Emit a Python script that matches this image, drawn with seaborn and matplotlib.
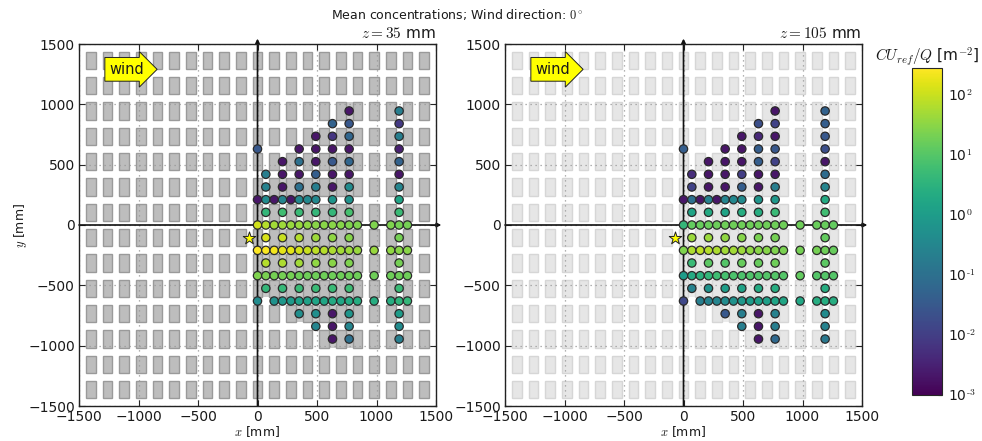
import numpy as np
import pandas as pd
import matplotlib
matplotlib.use('Agg')
import matplotlib.pyplot as plt
from matplotlib.colors import LogNorm
from matplotlib.patches import Rectangle
from matplotlib.cm import ScalarMappable
import seaborn as sns

# ── building layout (mm)
bld_x = [-1400, -1260, -1120, -980, -840, -700, -560, -420, -280, -140, 0,
         140, 280, 420, 560, 700, 840, 980, 1120, 1260, 1400]
bld_y = [1365, 1155, 945, 735, 525, 315, 105, -105, -315, -525, -735, -945, -1155, -1365]
bld_w, bld_h = 80, 145

# rows where the gaps between buildings are closed
fill_y = [945, 735, 525, 315, 105, -105, -315, -525, -735, -945]
fill_from = [700, 700, 560, 140, 560, 140, 0, 0, 280, 560]
fill_to = [840, 840, 840, 840, 840, 840, 840, 840, 840, 840]

# ── sampling positions
x_full = [0, 70, 140, 210, 280, 350, 420, 490, 560, 630, 700, 770, 840, 980, 1120, 1190, 1260]
x_gap = [0, 140, 210, 280, 350, 420, 490, 560, 630, 700, 770, 840, 980, 1120, 1190, 1260]
x_odd = [70, 210, 350, 490, 630, 770, 1190]

row_y = [945, 840, 735, 630, 525, 420, 315, 210, 105, 0,
         -105, -210, -315, -420, -525, -630, -735, -840, -945]
row_x = [
    [770, 1190],
    [630, 770, 1190],
    [490, 630, 770, 1190],
    [0, 350, 490, 630, 770, 1190],
    [210, 350, 490, 630, 770, 1190],
    x_odd,
    x_odd,
    [0, 70, 140, 210, 280, 350, 420, 490, 630, 770, 1190],
    x_odd,
    x_full,
    x_odd,
    x_full,
    x_odd,
    x_full,
    x_odd,
    x_gap,
    [350, 490, 630, 770, 1190],
    [490, 630, 770, 1190],
    [630, 770, 1190],
]

# ── CU_ref/Q
conc_35 = [
    [.002, .2],
    [.05, .03, .008],
    [.002, .007, .06, .2],
    [.03, .002, .002, .002, .002, .003],
    [.002, .1, .002, .03, .06, .05],
    [.2, .002, .002, .04, .002, .002, .002],
    [.25, .002, .1, .2, .002, .4, .3],
    [.002, .4, .002, .3, .002, .35, .35, .35, .7, .6, 1.5],
    [4, 6, 5, 4, 4, 7, 5],
    [120, 70, 50, 45, 40, 40, 35, 30, 30, 30, 28, 25, 25, 25, 25, 20, 20],
    [130, 100, 70, 45, 35, 28, 20],
    [280, 250, 220, 170, 160, 120, 100, 80, 70, 60, 50, 45, 40, 40, 35, 30, 30],
    [70, 60, 50, 35, 30, 25, 20],
    [25, 22, 20, 20, 20, 18, 18, 18, 18, 18, 18, 18, 18, 18, 18, 18, 18],
    [4, 4.5, 5, 5, 5, 5.5, 5],
    [.4, .6, .8, .9, 1.2, 1.3, 1.5, 1.7, 2, 1.7, 2, 2.5, 2.5, 2.5, 3.5, 4],
    [.5, .5, .002, .7, 1],
    [.3, .002, .3, .4],
    [.002, .1, .2],
]
conc_105 = [
    [.002, .05],
    [.02, .012, .04],
    [.002, .004, .002, .03],
    [.04, .002, .002, .04, .03, .02],
    [.002, .002, .002, .04, .012, .002],
    [.005, .002, .002, .01, .002, .002, .08],
    [.012, .002, .002, .04, .002, .2, .3],
    [.002, .1, .002, .25, .002, .3, .35, .4, .7, .8, 2],
    [1.5, 2, 1.5, 2.5, 2.5, 5, 6],
    [4, 14, 15, 16, 17, 18, 18, 18, 18, 18, 18, 18, 18, 18, 16, 15, 14],
    [43, 43, 35, 28, 22, 20, 14],
    [25, 60, 80, 70, 60, 50, 50, 45, 35, 30, 28, 25, 22, 20, 20, 18, 15],
    [5, 12, 10, 15, 15, 18, 12],
    [1, 2, 3, 4, 6, 7, 8, 8, 9, 9, 10, 10, 10, 14, 10, 10, 10],
    [.25, .6, 1.1, 1.4, 2, 2.5, 2.5],
    [.015, .2, .25, .3, .4, .6, .8, 1, 1.2, 1.2, 1.5, 1.6, 1.8, 2.5, 2.5, 2.5],
    [.03, .2, .002, .25, .4],
    [.2, .002, .2, .25],
    [.002, .07, .15],
]

source_x, source_y = [-70], [-105]
cbar_ticks = [1e-3, 1e-2, 1e-1, 1e0, 1e1, 1e2]
cbar_labels = ['10$^{\\text{-3}}$', '10$^{\\text{-2}}$', '10$^{\\text{-1}}$',
               '10$^{0}$', '10$^{1}$', '10$^{2}$']
lim_ticks = [-1500, -1000, -500, 0, 500, 1000, 1500]

sns.set_style('white')
plt.rcParams['font.family'] = 'DejaVu Sans'
plt.rcParams['mathtext.fontset'] = 'cm'
plt.rcParams['axes.unicode_minus'] = True

norm = LogNorm(vmin=1e-3, vmax=280)
W, H = 982, 441
fig = plt.figure(figsize=(W / 100, H / 100), dpi=100)
TXT = '#1a1a1a'


def panel(left_px, conc, z_label, bld_fc, bld_ec, fill_fc):
    ax = fig.add_axes([left_px / W, (H - 406) / H, 357 / W, 362 / H])
    ax.set_xlim(-1500, 1500)
    ax.set_ylim(-1500, 1500)
    ax.set_xticks(lim_ticks)
    ax.set_yticks(lim_ticks)
    ax.tick_params(direction='in', length=4, width=0.8, top=True, right=True,
                   bottom=True, left=True, labelsize=10, labelcolor=TXT, pad=3)
    ax.grid(True, color='#999999', linestyle=(0, (1, 3)), linewidth=0.9, zorder=2)
    ax.set_axisbelow(False)
    for s in ax.spines.values():
        s.set_linewidth(1)
        s.set_color('#222222')
        s.set_zorder(10)

    # buildings
    for fy, f0, f1 in zip(fill_y, fill_from, fill_to):
        ax.add_patch(Rectangle((f0, fy - bld_h / 2), f1 - f0, bld_h,
                               fc=fill_fc, ec='none', zorder=0.5))
    for by in bld_y:
        for bx in bld_x:
            ax.add_patch(Rectangle((bx - bld_w / 2, by - bld_h / 2), bld_w, bld_h,
                                   fc=bld_fc, ec=bld_ec, lw=1, zorder=1))

    # coordinate axes through the origin
    for xy, xytext in [((0, 1545), (0, -1500)), ((1545, 0), (-1500, 0))]:
        ax.annotate('', xy=xy, xytext=xytext, annotation_clip=False,
                    arrowprops=dict(arrowstyle='-|>', color='#111111', lw=1.2,
                                    shrinkA=0, shrinkB=0, mutation_scale=6),
                    zorder=3)

    df = pd.DataFrame({
        'x': [v for xs in row_x for v in xs],
        'y': [ry for ry, xs in zip(row_y, row_x) for _ in xs],
        'c': [v for vals in conc for v in vals],
    })
    sns.scatterplot(data=df, x='x', y='y', hue='c', hue_norm=norm, palette='viridis',
                    s=36, edgecolor='#2a2a2a', linewidth=0.9, legend=False, ax=ax,
                    zorder=4, clip_on=False)
    sns.scatterplot(x=source_x, y=source_y, marker='*', color='yellow', s=90,
                    edgecolor='#222222', linewidth=0.7, ax=ax, zorder=5)

    ax.text(-1100, 1290, 'wind', fontsize=10.5, color=TXT, ha='center', va='center',
            bbox=dict(boxstyle='rarrow,pad=0.3', fc='yellow', ec='#222222', lw=0.7),
            zorder=6)
    ax.set_xlabel('$x$ [mm]', fontsize=9, color=TXT, labelpad=0)
    ax.set_ylabel('')
    ax.set_title(z_label, loc='right', fontsize=11, color=TXT, pad=4)
    return ax


ax1 = panel(79, conc_35, '$z = 35$ mm', '#bdbdbd', '#9a9a9a', '#cacaca')
ax2 = panel(505, conc_105, '$z = 105$ mm', '#e6e6e6', '#d6d6d6', '#ececec')
ax1.set_ylabel('$y$ [mm]', fontsize=9, color=TXT, labelpad=-1)

fig.text(457 / W, 1 - 14 / H, 'Mean concentrations; Wind direction: $0^\\circ$',
         ha='center', va='center', fontsize=9, color=TXT)

# colour bar
cax = fig.add_axes([912 / W, (H - 395) / H, 30 / W, 327 / H])
cb = fig.colorbar(ScalarMappable(norm=norm, cmap='viridis'), cax=cax)
cb.set_ticks(cbar_ticks)
cb.set_ticklabels(cbar_labels)
cb.minorticks_off()
cax.tick_params(direction='in', length=3, width=0.8, labelsize=10, labelcolor=TXT, pad=4)
cb.outline.set_linewidth(0.8)
fig.text(927 / W, 1 - 57 / H, '$CU_{ref}/Q$ [m$^{-2}$]', ha='center', va='center',
         fontsize=11, color=TXT)

fig.savefig('out.png', dpi=100)
